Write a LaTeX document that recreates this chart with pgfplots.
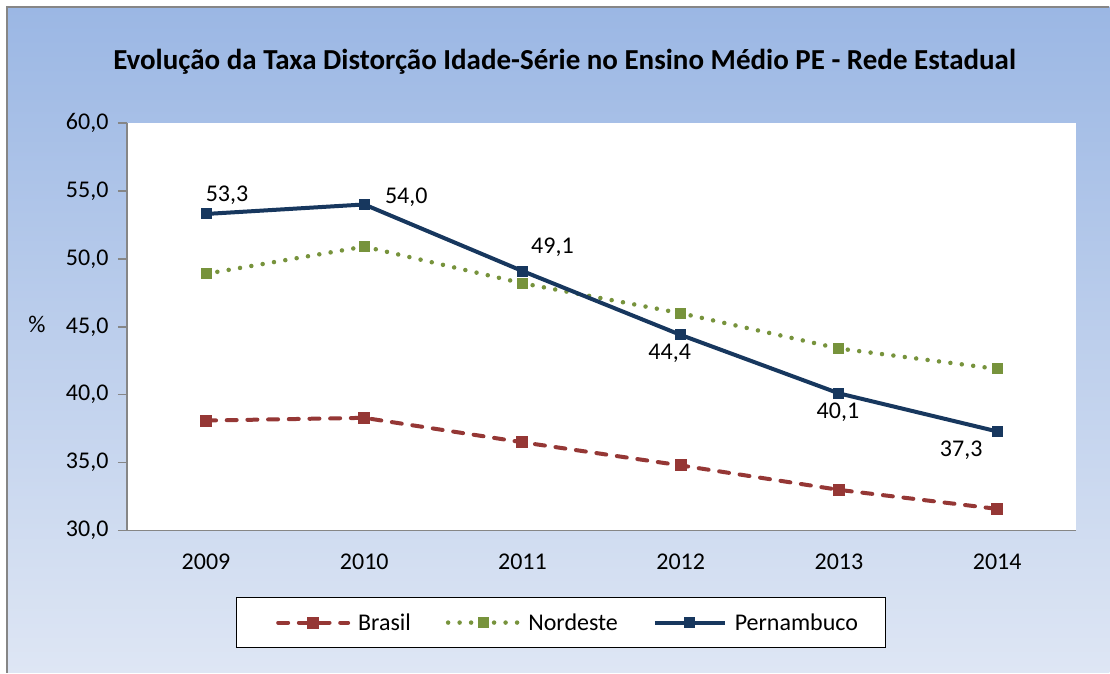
\documentclass[border=0pt]{standalone}
\usepackage{pgfplots}
\pgfplotsset{compat=1.18}
\usepackage{fontspec}
\setmainfont{Carlito}
\definecolor{bgtop}{RGB}{155,183,228}
\definecolor{bgbot}{RGB}{222,230,244}
\definecolor{cbr}{RGB}{149,55,53}
\definecolor{cne}{RGB}{119,147,60}
\definecolor{cpe}{RGB}{23,55,94}
\definecolor{axgray}{RGB}{134,134,134}
\begin{document}
\begin{tikzpicture}[x=1pt,y=1pt]
\fill[white] (0,0) rectangle (1110,673);
\shade[top color=bgtop,bottom color=bgbot] (7,0) rectangle (1110,666);
\draw[axgray,line width=1.5pt] (7,0) -- (7,666) -- (1110,666);
\fill[white] (237,25) rectangle (886,75);
\draw[black,line width=1.2pt] (237,25) rectangle (886,75);
\node[font=\bfseries\fontsize{29}{34}\selectfont] at (565,611) {Evolução da Taxa Distorção Idade-Série no Ensino Médio PE - Rede Estadual};
\node[font=\fontsize{24}{28}\selectfont] at (37,348) {\%};
\begin{axis}[
  at={(127pt,142pt)}, anchor=south west,
  scale only axis, width=950pt, height=408pt,
  xmin=-0.5, xmax=5.5, ymin=30, ymax=60,
  axis background/.style={fill=white},
  axis x line*=bottom, axis y line*=left,
  axis line style={draw=axgray,line width=1.5pt,-},
  xtick={0,1,2,3,4,5},
  xticklabels={2009,2010,2011,2012,2013,2014},
  minor xtick={-0.5,0.5,1.5,2.5,3.5,4.5,5.5},
  ytick={30,35,40,45,50,55,60},
  yticklabels={{30,0},{35,0},{40,0},{45,0},{50,0},{55,0},{60,0}},
  tick align=outside,
  xtick style={draw=none},
  minor tick style={draw=axgray,line width=1.5pt},
  ytick style={draw=axgray,line width=1.5pt},
  major tick length=9pt, minor tick length=9pt,
  tick label style={font=\fontsize{24}{28}\selectfont},
  /pgf/number format/assume math mode=true,
  xticklabel style={yshift=-11pt},
  yticklabel style={xshift=-6pt},
  clip=false,
  legend columns=3,
  legend style={at={(axis description cs:0.4647,-0.2255)},anchor=center,draw=none,fill=none,
    font=\fontsize{24}{28}\selectfont,
    /tikz/every odd column/.append style={column sep=6pt},
    /tikz/every even column/.append style={column sep=33pt}},
  legend image code/.code={\draw[mark repeat=2,mark phase=2,#1] plot coordinates {(0pt,0pt) (35pt,0pt) (70pt,0pt)};},
]
\addplot[cbr,line width=4pt,dash pattern=on 10pt off 10.7pt,line cap=round,mark=square*,mark size=5.5pt,mark options={solid,line cap=butt,line width=1pt}]
  coordinates {(0,38.1) (1,38.3) (2,36.5) (3,34.8) (4,33.0) (5,31.6)};
\addlegendentry{Brasil}
\addplot[cne,line width=4.5pt,dash pattern=on 0pt off 11.5pt,line cap=round,mark=square*,mark size=5pt,mark options={solid,line cap=butt,line width=1pt}]
  coordinates {(0,48.9) (1,50.9) (2,48.2) (3,46.0) (4,43.4) (5,41.9)};
\addlegendentry{Nordeste}
\addplot[cpe,line width=4pt,mark=square*,mark size=5pt,mark options={line width=1pt}]
  coordinates {(0,53.3) (1,54.0) (2,49.1) (3,44.4) (4,40.1) (5,37.3)};
\addlegendentry{Pernambuco}
\begin{scope}[every node/.style={font=\fontsize{24}{28}\selectfont,inner sep=0pt}]
\node[xshift=21pt,yshift=19pt] at (axis cs:0,53.3) {53,3};
\node[xshift=42pt,yshift=7pt] at (axis cs:1,54.0) {54,0};
\node[xshift=30pt,yshift=24pt] at (axis cs:2,49.1) {49,1};
\node[xshift=-11pt,yshift=-18pt] at (axis cs:3,44.4) {44,4};
\node[xshift=-1pt,yshift=-19pt] at (axis cs:4,40.1) {40,1};
\node[xshift=-36pt,yshift=-19pt] at (axis cs:5,37.3) {37,3};
\end{scope}
\end{axis}
\end{tikzpicture}
\end{document}
